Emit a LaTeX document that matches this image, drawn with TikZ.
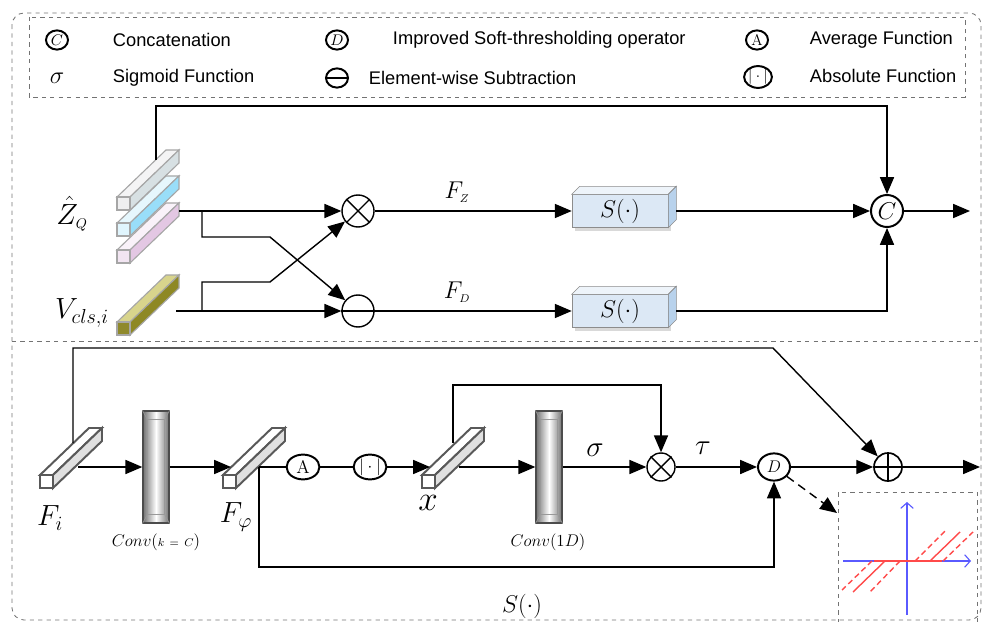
\documentclass[tikz,border=0pt]{standalone}
\usepackage{fontspec}
\newfontfamily\legfont{Liberation Sans}
\usetikzlibrary{arrows.meta,shapes.geometric,shadows}
\definecolor{sfront}{HTML}{DCE8F5}
\definecolor{stop}{HTML}{EEF4FA}
\definecolor{sside}{HTML}{B8D2EC}
\definecolor{plotred}{HTML}{FF4A4A}
\definecolor{plotblue}{HTML}{5A5AFF}
\newcommand{\featbar}[6]{
  \filldraw[#6, fill=#3] (#1,#2) -- ++(49,-47) -- ++(13,0) -- ++(-49,47) -- cycle;
  \filldraw[#6, fill=#4] (#1+13,#2) -- ++(49,-47) -- ++(0,13) -- ++(-49,47) -- cycle;
  \filldraw[#6, fill=#5] (#1,#2) rectangle ++(13,13);
}
\tikzset{
  arr/.style={-{Triangle[length=12pt,width=10pt]}, line width=1pt},
  line/.style={line width=1pt},
  frame/.style={draw=black!55, dashed, line width=0.6pt},
  opnode/.style={draw, circle, line width=1pt, minimum size=0.8cm, inner sep=0pt},
  smallop/.style={draw, circle, line width=1pt, minimum size=0.7cm, inner sep=0pt},
  funnode/.style={draw, ellipse, line width=1.4pt, minimum width=0.82cm, minimum height=0.62cm, inner sep=0pt, font=\fontsize{13}{15}\selectfont},
  legsym/.style={draw, ellipse, line width=1.4pt, minimum width=0.55cm, minimum height=0.48cm, inner sep=0pt, font=\fontsize{11}{13}\selectfont},
  legtext/.style={anchor=west, font=\legfont\fontsize{13}{15}\selectfont},
  lbl/.style={font=\fontsize{20}{24}\selectfont},
  sbox/.style={draw=black!45, fill=sfront, minimum width=2.4cm, minimum height=0.82cm, inner sep=0pt, font=\fontsize{16}{18}\selectfont, drop shadow={shadow xshift=0.08cm, shadow yshift=-0.1cm, opacity=0.3}},
  convbox/.style={draw=black!70, line width=1pt, left color=black!55, right color=black!55, middle color=white, minimum width=0.65cm, minimum height=2.8cm, inner sep=0pt},
  topbar/.style={draw=black!35, line width=0.8pt},
  graybar/.style={draw=black!65, line width=1.4pt},
}
\begin{document}
\begin{tikzpicture}[x=0.025cm, y=-0.025cm]
\useasboundingbox (0,0) rectangle (984,622);
\draw[frame, rounded corners=0.3cm] (12,13) rectangle (981,620);
\draw[frame] (29,17) rectangle (965,97);
\draw[frame] (12,341) -- (981,341);

\node[legsym] (lc) at (57,40) {$C$};
\node[legtext] (lct) at (108,40) {Concatenation};
\node[font=\fontsize{18}{20}\selectfont] (ls) at (57,78) {$\sigma$};
\node[legtext] (lst) at (108,78) {Sigmoid Function};
\node[legsym] (ld) at (337,40) {$D$};
\node[legtext] (ldt) at (388,40) {Improved Soft-thresholding operator};
\node[legsym] (lm) at (337,78) {};
\draw[line width=1.4pt] (lm.west) -- (lm.east);
\node[legtext] (lmt) at (364,78) {Element-wise Subtraction};
\node[legsym] (la) at (757,40) {$\mathrm{A}$};
\node[legtext] (lat) at (805,40) {Average Function};
\node[legsym] (lb) at (758,77) {$|\cdot|$};
\node[legtext] (lbt) at (805,76) {Absolute Function};

\featbar{117}{197}{blue!4!gray!8}{cyan!20!gray!30}{blue!3!gray!12}{topbar}
\featbar{117}{223}{cyan!10}{cyan!40}{cyan!12}{topbar}
\featbar{117}{250}{violet!5}{violet!22}{violet!10}{topbar}
\featbar{117}{322}{olive!35}{olive!75!gray}{olive!70!gray}{topbar}
\node[lbl] (zlab) at (72,214) {$\hat{Z}_{\scriptscriptstyle Q}$};
\node[lbl] (vlab) at (82,313) {$V_{cls,i}$};

\node[opnode] (mul) at (358,211) {};
\draw[line] (mul.north east) -- (mul.south west) (mul.north west) -- (mul.south east);
\node[opnode] (sub) at (358,311) {};
\draw[line] (sub.west) -- (sub.east);
\node[sbox] (sz) at (620,211) {$S(\cdot)$};
\filldraw[draw=black!45, fill=stop] (sz.north west) -- ++(8,-8) -- ([shift={(8,-8)}]sz.north east) -- (sz.north east) -- cycle;
\filldraw[draw=black!45, fill=sside] (sz.north east) -- ++(8,-8) -- ([shift={(8,-8)}]sz.south east) -- (sz.south east) -- cycle;
\node[sbox] (sd) at (620,311) {$S(\cdot)$};
\filldraw[draw=black!45, fill=stop] (sd.north west) -- ++(8,-8) -- ([shift={(8,-8)}]sd.north east) -- (sd.north east) -- cycle;
\filldraw[draw=black!45, fill=sside] (sd.north east) -- ++(8,-8) -- ([shift={(8,-8)}]sd.south east) -- (sd.south east) -- cycle;
\node[opnode, line width=1.4pt, font=\fontsize{16}{18}\selectfont] (cat) at (887,211) {$C$};
\node[font=\fontsize{16}{18}\selectfont] (fz) at (457,192) {$F_{\scriptscriptstyle Z}$};
\node[font=\fontsize{16}{18}\selectfont] (fd) at (457,292) {$F_{\scriptscriptstyle D}$};

\coordinate (zup) at (156,160);
\coordinate (zout) at (179,211);
\coordinate (vout) at (176,311);
\coordinate (zbr) at (202,211);
\coordinate (vbr) at (202,311);
\coordinate (catout) at (970,211);
\draw[arr] (zup) -- (156,106) -| (cat);
\draw[arr] (zout) -- (mul);
\draw[arr] (zbr) -- (202,237) -- (270,237) -- (sub);
\draw[arr] (vout) -- (sub);
\draw[arr] (vbr) -- (202,282) -- (270,282) -- (mul);
\draw[arr] (mul) -- (sz);
\draw[arr] (sub) -- (sd);
\draw[arr] ([xshift=0.2cm]sz.east) -- (cat);
\draw[arr] ([xshift=0.2cm]sd.east) -| (cat);
\draw[arr] (cat) -- (catout);

\featbar{40}{475}{white}{black!12}{white}{graybar}
\featbar{223}{475}{white}{black!12}{white}{graybar}
\featbar{422}{475}{white}{black!12}{white}{graybar}
\node[convbox] (cv1) at (156,467) {};
\draw[black!40] ([shift={(5,9)}]cv1.north west) rectangle ([shift={(-5,-9)}]cv1.south east);
\draw[black!40] (cv1.north west) -- ++(5,9) (cv1.north east) -- ++(-5,9) (cv1.south west) -- ++(5,-9) (cv1.south east) -- ++(-5,-9);
\node[convbox] (cv2) at (549,467) {};
\draw[black!40] ([shift={(5,9)}]cv2.north west) rectangle ([shift={(-5,-9)}]cv2.south east);
\draw[black!40] (cv2.north west) -- ++(5,9) (cv2.north east) -- ++(-5,9) (cv2.south west) -- ++(5,-9) (cv2.south east) -- ++(-5,-9);
\node[funnode] (avg) at (303,467) {$\mathrm{A}$};
\node[funnode] (abs) at (370,467) {$|\cdot|$};
\node[smallop] (gate) at (661,467) {};
\draw[line] (gate.north east) -- (gate.south west) (gate.north west) -- (gate.south east);
\node[funnode, minimum width=0.8cm, minimum height=0.68cm] (soft) at (774,467) {$D$};
\node[smallop, line width=1.2pt] (add) at (888,467) {};
\draw[line width=1.2pt] (add.north) -- (add.south) (add.west) -- (add.east);

\node[lbl] (filab) at (50,518) {$F_i$};
\node[lbl] (philab) at (236,517) {$F_\varphi$};
\node[font=\fontsize{24}{26}\selectfont] (xlab) at (428,503) {$x$};
\node[font=\fontsize{13}{15}\selectfont] (cv1lab) at (156,542) {$Conv(${\footnotesize$k\,=\,C$}$)$};
\node[font=\fontsize{13}{15}\selectfont] (cv2lab) at (548,542) {$Conv(1D)$};
\node[lbl] (siglab) at (595,450) {$\sigma$};
\node[lbl] (taulab) at (703,448) {$\tau$};
\node[font=\fontsize{18}{20}\selectfont] (slab) at (522,606) {$S(\cdot)$};

\coordinate (fiout) at (78,467);
\coordinate (fiup) at (73,443);
\coordinate (phiin) at (231,467);
\coordinate (phiout) at (259,467);
\coordinate (xin) at (430,467);
\coordinate (xout) at (459,467);
\coordinate (xup) at (453,443);
\coordinate (fin) at (980,467);
\coordinate (softarr) at (837,513);
\draw[arr] (fiout) -- (cv1);
\draw[arr] (cv1) -- (phiin);
\draw[line] (phiout) -- (avg) -- (abs);
\draw[arr] (abs) -- (xin);
\draw[arr] (xout) -- (cv2);
\draw[arr] (cv2) -- (gate);
\draw[arr] (gate) -- (soft);
\draw[arr] (soft) -- (add);
\draw[arr] (add) -- (fin);
\draw[arr] (phiout) -- (259,567) -| (soft);
\draw[arr] (xup) -- (453,385) -| (gate);
\draw[arr] (fiup) -- (73,348) -- (773,348) -- (add);
\draw[arr, dashed, dash pattern=on 6pt off 4pt] (soft) -- (softarr);

\draw[frame] (838,640) -- (838,492) -- (977,492) -- (977,640);
\draw[plotblue, line width=0.8pt, -{Straight Barb[length=4pt,width=9pt]}] (907,615) -- (907,502);
\draw[plotblue, line width=0.8pt, -{Straight Barb[length=4pt,width=9pt]}] (843,561) -- (971,561);
\draw[plotred, line width=1pt] (874,561) -- (942,561);
\draw[plotred, line width=1pt] (885,561) -- (853,592) (930,561) -- (960,532);
\draw[plotred, line width=1pt, dash pattern=on 4pt off 2.5pt] (872,561) -- (842,590) (900,561) -- (870,592) (915,561) -- (945,531) (943,561) -- (973,532);
\end{tikzpicture}
\end{document}
